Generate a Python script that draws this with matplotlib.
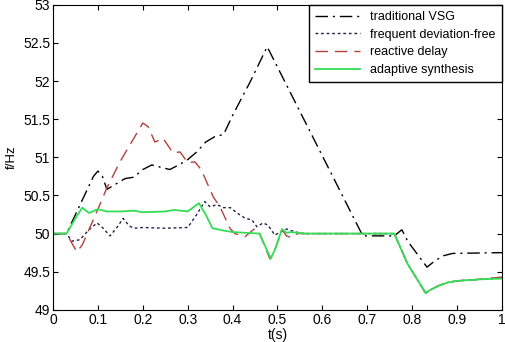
import numpy as np
import matplotlib
matplotlib.use("Agg")
import matplotlib.pyplot as plt

plt.rcParams['font.family'] = ['Liberation Sans', 'DejaVu Sans']

# traditional VSG
t_vsg = [0, 0.03, 0.05, 0.07, 0.09, 0.1, 0.11, 0.12, 0.14, 0.16, 0.18, 0.2, 0.22,
         0.24, 0.26, 0.28, 0.3, 0.32, 0.34, 0.36, 0.38, 0.4, 0.44, 0.477, 0.69,
         0.76, 0.777, 0.79, 0.833, 0.85, 0.87, 0.89, 1.0]
f_vsg = [50, 50.0, 50.25, 50.5, 50.75, 50.82, 50.75, 50.58, 50.65, 50.72, 50.74,
         50.84, 50.9, 50.87, 50.84, 50.9, 50.97, 51.07, 51.2, 51.27, 51.3, 51.55,
         52.0, 52.45, 49.97, 49.97, 50.05, 49.9, 49.56, 49.64, 49.71, 49.74, 49.75]

# frequent deviation-free
t_fdf = [0, 0.03, 0.042, 0.06, 0.08, 0.098, 0.11, 0.127, 0.145, 0.156, 0.17, 0.18,
         0.2, 0.25, 0.3, 0.32, 0.338, 0.35, 0.365, 0.38, 0.395, 0.41, 0.428, 0.443,
         0.454, 0.468, 0.479, 0.494, 0.506, 0.52, 0.54, 0.56, 0.76, 0.79, 0.83,
         0.84, 0.86, 0.88, 0.9, 0.95, 1.0]
f_fdf = [50, 50, 49.9, 49.92, 50.05, 50.14, 50.08, 49.97, 50.1, 50.2, 50.1, 50.07,
         50.08, 50.07, 50.08, 50.25, 50.42, 50.35, 50.38, 50.34, 50.34, 50.27, 50.2,
         50.18, 50.09, 50.14, 50.11, 49.98, 50.02, 50.06, 50.02, 50.0, 50.0, 49.6,
         49.22, 49.26, 49.32, 49.36, 49.38, 49.4, 49.42]

# reactive delay
t_rd = [0, 0.03, 0.053, 0.065, 0.08, 0.1, 0.12, 0.15, 0.2, 0.212, 0.227, 0.245,
        0.267, 0.283, 0.3, 0.316, 0.33, 0.357, 0.372, 0.394, 0.405, 0.428, 0.45,
        0.46, 0.483, 0.495, 0.51, 0.52, 0.53, 0.545, 0.56, 0.76, 0.79, 0.83, 0.84,
        0.86, 0.88, 0.9, 0.95, 1.0]
f_rd = [50, 50, 49.76, 49.85, 50.05, 50.32, 50.6, 50.95, 51.45, 51.4, 51.2, 51.25,
        51.06, 51.07, 50.93, 50.94, 50.84, 50.48, 50.35, 50.07, 50.0, 49.96, 50.07,
        50.0, 49.67, 49.8, 50.05, 49.97, 49.95, 50.0, 50.0, 50.0, 49.6, 49.22, 49.26,
        49.32, 49.36, 49.38, 49.4, 49.43]

# adaptive synthesis
t_as = [0, 0.03, 0.05, 0.065, 0.08, 0.1, 0.12, 0.15, 0.18, 0.2, 0.25, 0.27, 0.3,
        0.325, 0.34, 0.355, 0.38, 0.4, 0.46, 0.485, 0.495, 0.51, 0.52, 0.53, 0.56,
        0.76, 0.79, 0.83, 0.84, 0.86, 0.88, 0.9, 0.95, 1.0]
f_as = [50, 50, 50.2, 50.34, 50.27, 50.32, 50.29, 50.29, 50.3, 50.28, 50.29, 50.31,
        50.29, 50.4, 50.25, 50.07, 50.04, 50.02, 50.0, 49.67, 49.8, 50.06, 50.01,
        50.02, 50.0, 50.0, 49.6, 49.22, 49.26, 49.32, 49.36, 49.38, 49.4, 49.41]

fig = plt.figure(figsize=(5.05, 3.42), dpi=100)
ax = fig.add_axes([0.105, 0.094, 0.889, 0.892])

ax.plot(t_vsg, f_vsg, color='black', lw=1.0, ls=(0, (9, 3.5, 1.5, 3.5)), label='traditional VSG')
ax.plot(t_fdf, f_fdf, color='#22224a', lw=1.0, ls=(0, (2, 2)), label='frequent deviation-free')
ax.plot(t_rd, f_rd, color='#b3403a', lw=1.0, ls=(0, (9, 5)), label='reactive delay')
ax.plot(t_as, f_as, color='#33dd55', lw=1.3, label='adaptive synthesis')

ax.set_xlim(0, 1)
ax.set_ylim(49, 53)
ax.set_xticks(np.arange(0, 1.01, 0.1))
ax.set_yticks(np.arange(49, 53.01, 0.5))
ax.set_xticklabels(['%g' % v for v in np.round(np.arange(0, 1.01, 0.1), 1)])
ax.set_yticklabels(['%g' % v for v in np.arange(49, 53.01, 0.5)])
ax.tick_params(direction='in', top=True, right=True, length=3.5, labelsize=10, pad=2)
ax.set_xlabel('t(s)', fontsize=10, labelpad=1)
ax.set_ylabel('f/Hz', fontsize=9.5, labelpad=4)

leg = ax.legend(loc='upper right', bbox_to_anchor=(1, 1), borderaxespad=0,
                fontsize=9, fancybox=False, framealpha=1, edgecolor='black',
                handlelength=3.6, labelspacing=0.45, borderpad=0.5)
leg.get_frame().set_linewidth(1.0)

fig.savefig('out.png', dpi=100)
